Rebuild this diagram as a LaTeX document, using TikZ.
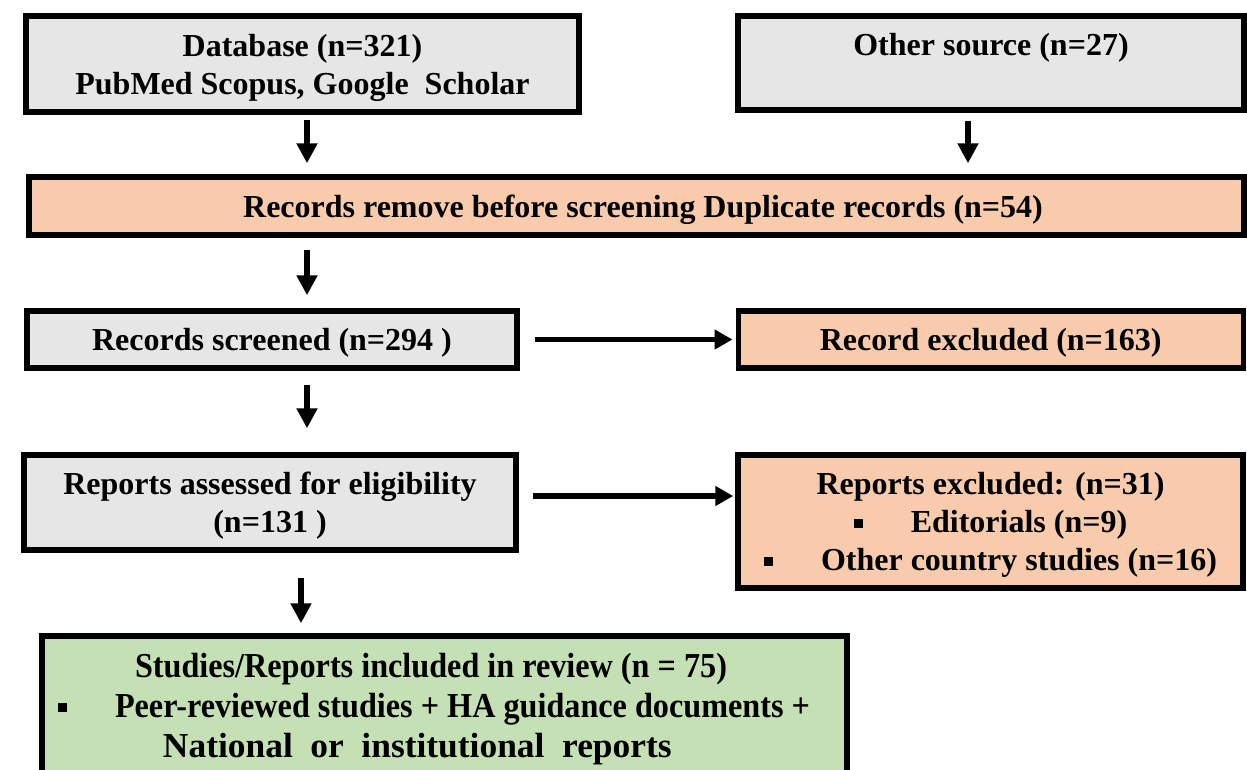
\documentclass[tikz,border=0pt]{standalone}
\usepackage{fontspec}
\setmainfont{Liberation Serif}
\newfontfamily\condserif[FakeStretch=0.92]{Liberation Serif}
\usetikzlibrary{arrows.meta}
\definecolor{boxgray}{HTML}{E7E6E6}
\definecolor{boxorange}{HTML}{F8CBAD}
\definecolor{boxgreen}{HTML}{C5E0B4}
\newcommand{\sqbul}{\raisebox{5pt}{\rule{9pt}{9pt}}\hspace{48pt}}
\newcommand{\incline}[2]{\makebox[800pt][l]{\hspace*{#1}#2}}
\begin{document}
\begin{tikzpicture}[x=1pt,y=-1pt,
  box/.style={draw=black, line width=5.5pt, align=center, inner sep=0pt,
    text depth=0pt, font=\fontsize{32}{38}\selectfont\bfseries},
  grayb/.style={box, fill=boxgray},
  orangeb/.style={box, fill=boxorange},
  greenb/.style={box, fill=boxgreen, font=\condserif\fontsize{35}{40}\selectfont\bfseries},
  arr/.style={line width=6pt, -{Triangle[length=20pt,width=20pt]}},
  harr/.style={line width=5.5pt, -{Triangle[length=18pt,width=19pt]}}
]
\useasboundingbox (0,0) rectangle (1247,769);
\clip (0,0) rectangle (1247,769);
\fill[white] (0,0) rectangle (1247,769);

\node[grayb, minimum width=553pt, minimum height=96pt] (db) at (302.5,64)
  {Database (n=321)\\PubMed Scopus, Google\ \ Scholar};
\node[grayb, minimum width=506pt, minimum height=94pt] (other) at (991,63)
  {Other source (n=27)\\\strut};
\node[orangeb, minimum width=1215pt, minimum height=58pt] (dup) at (636.5,206)
  {\hspace*{13pt}Records remove before screening Duplicate records (n=54)};
\node[grayb, minimum width=490pt, minimum height=57pt] (scr) at (272,339.5)
  {Records screened (n=294 )};
\node[orangeb, minimum width=505pt, minimum height=57pt] (exc) at (990.75,339.5)
  {Record excluded (n=163)};
\node[grayb, minimum width=492pt, minimum height=95pt] (ass) at (270,502.5)
  {Reports assessed for eligibility\\(n=131 )};
\node[orangeb, minimum width=505pt, minimum height=133pt] (rex) at (990.5,521.5)
  {Reports excluded: (n=31)\\
   \sqbul Editorials (n=9)\hspace*{9pt}\\
   \sqbul Other country studies (n=16)};
\node[greenb, minimum width=805pt, minimum height=138pt] (inc) at (444.5,705)
  {\incline{90.5pt}{Studies/Reports included in review (n = 75)}\\
   \incline{13.5pt}{\sqbul Peer-reviewed studies + HA guidance documents +}\\
   \incline{118.5pt}{\scalebox{1.1}[1]{National\hspace{16pt}or\hspace{16pt}institutional\hspace{16pt}reports}}};

\coordinate (colA) at (307,0);
\coordinate (colB) at (968,0);
\coordinate (colC) at (301,0);
\coordinate (rowB) at (0,496);

\draw[arr, shorten <=5pt, shorten >=11pt] (db.south -| colA) -- (dup.north -| colA);
\draw[arr, shorten <=8pt, shorten >=11pt] (other.south -| colB) -- (dup.north -| colB);
\draw[arr, shorten <=12pt, shorten >=13pt] (dup.south -| colA) -- (scr.north -| colA);
\draw[arr, shorten <=14pt, shorten >=24pt] (scr.south -| colA) -- (ass.north -| colA);
\draw[arr, shorten <=25pt, shorten >=10pt] (ass.south -| colC) -- (inc.north -| colC);
\draw[harr, shorten <=15pt, shorten >=3pt] (scr.east) -- (exc.west);
\draw[harr, shorten <=14pt, shorten >=2pt] (ass.east |- rowB) -- (rex.west |- rowB);
\end{tikzpicture}
\end{document}
